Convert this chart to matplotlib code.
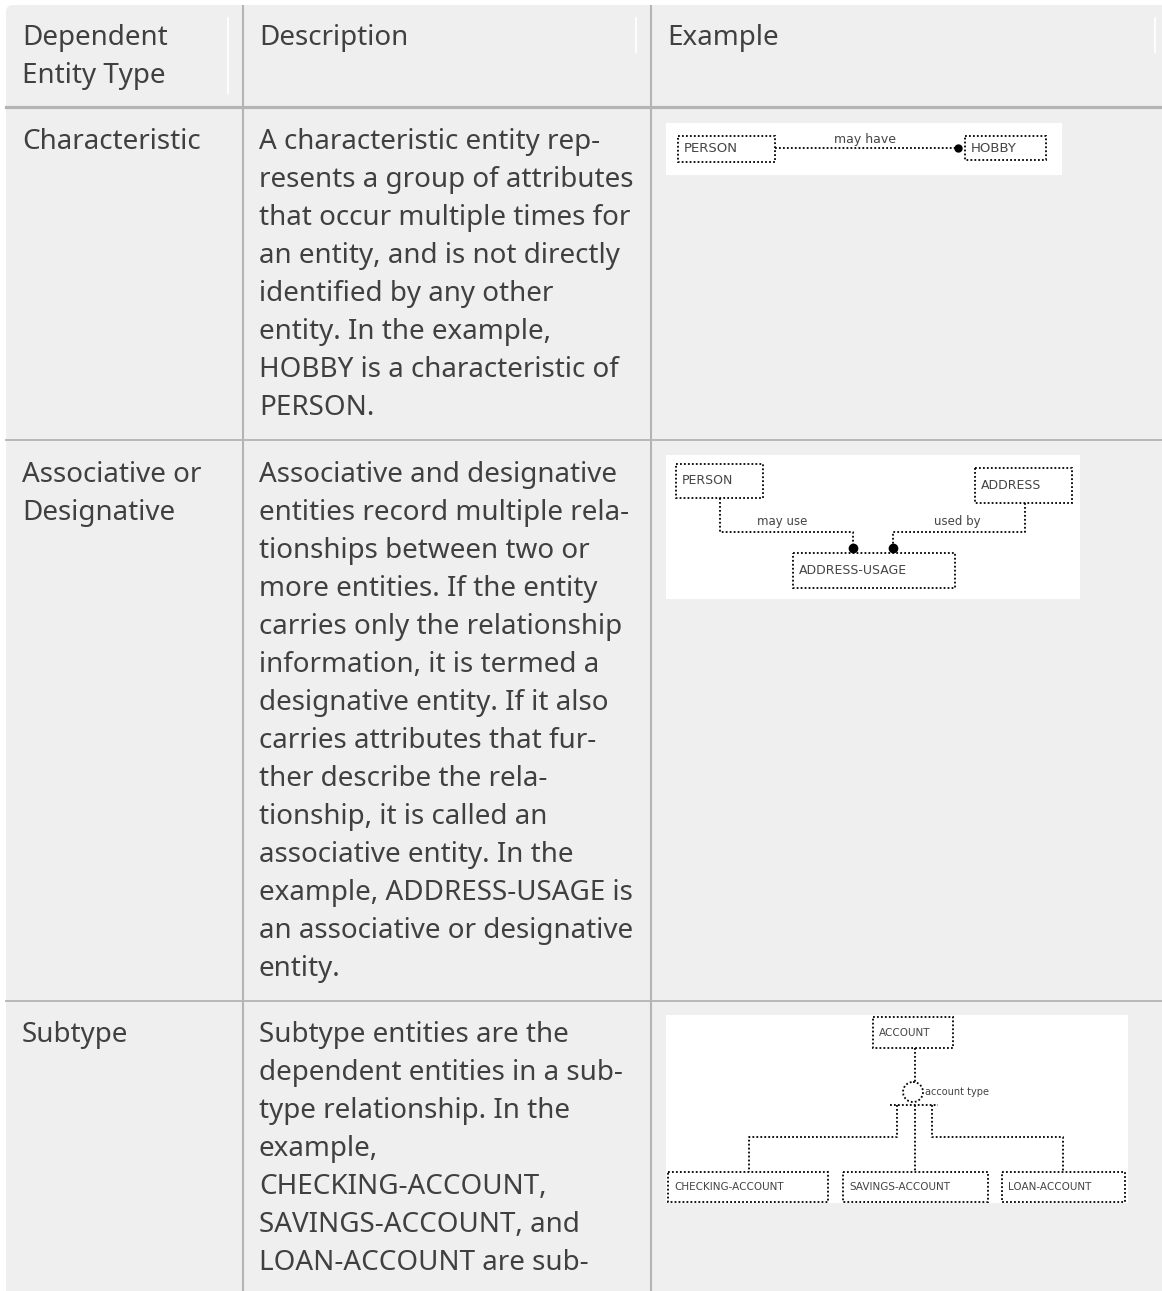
import matplotlib
matplotlib.use("Agg")
import matplotlib.pyplot as plt
from matplotlib.patches import FancyBboxPatch, Rectangle, Circle

plt.rcParams['font.family'] = ['Noto Sans', 'DejaVu Sans']

# table content
headers = ["Dependent\nEntity Type", "Description", "Example"]
entity_types = ["Characteristic", "Associative or\nDesignative", "Subtype"]
descriptions = [
    ["A characteristic entity rep-", "resents a group of attributes",
     "that occur multiple times for", "an entity, and is not directly",
     "identified by any other", "entity. In the example,",
     "HOBBY is a characteristic of", "PERSON."],
    ["Associative and designative", "entities record multiple rela-",
     "tionships between two or", "more entities. If the entity",
     "carries only the relationship", "information, it is termed a",
     "designative entity. If it also", "carries attributes that fur-",
     "ther describe the rela-", "tionship, it is called an",
     "associative entity. In the", "example, ADDRESS-USAGE is",
     "an associative or designative", "entity."],
    ["Subtype entities are the", "dependent entities in a sub-",
     "type relationship. In the", "example,", "CHECKING-ACCOUNT,",
     "SAVINGS-ACCOUNT, and", "LOAN-ACCOUNT are sub-"],
]

W, H = 1162, 1291
BG = '#efefef'
LINE = '#b4b4b4'
TXT = '#404040'
LH = 38          # line height in px
FS = 20          # font size

col_x = [6, 243, 651]
text_x = [22, 259, 667]
row_top = [5, 107, 440, 1001]

fig = plt.figure(figsize=(W / 100, H / 100), dpi=100)
ax = fig.add_axes([0, 0, 1, 1])
ax.set_xlim(0, W)
ax.set_ylim(H, 0)
ax.axis('off')

# table background
ax.add_patch(FancyBboxPatch((6, 5), W + 20, H + 20,
                            boxstyle="round,pad=0,rounding_size=7",
                            fc=BG, ec='none'))

# grid lines
for x in col_x[1:]:
    ax.plot([x, x], [5, H + 5], color=LINE, lw=1.5, solid_capstyle='butt')
ax.plot([6, W], [row_top[1], row_top[1]], color=LINE, lw=2.3)
for y in row_top[2:]:
    ax.plot([6, W], [y, y], color=LINE, lw=1.3)

# white resize handles in the header
ax.plot([228, 228], [18, 93], color='white', lw=1.3)
ax.plot([636, 636], [18, 52], color='white', lw=1.3)
ax.plot([1155, 1155], [18, 52], color='white', lw=1.3)


def put_lines(x, y0, lines):
    for i, s in enumerate(lines):
        ax.text(x, y0 + i * LH + 9, s, fontsize=FS, color=TXT,
                va='baseline', ha='left')


# header
for j, h in enumerate(headers):
    put_lines(text_x[j], 36, h.split("\n"))

# body rows
first_line = [140, 473, 1033]
for i in range(3):
    put_lines(text_x[0], first_line[i], entity_types[i].split("\n"))
    put_lines(text_x[1], first_line[i], descriptions[i])

# ---- example diagrams (dotted ER sketches) ----
dot = dict(color='black', lw=1.3, ls=(0, (1, 1.2)))


def ebox(x0, y0, x1, y1, label, fs):
    ax.add_patch(Rectangle((x0, y0), x1 - x0, y1 - y0, fill=False,
                           ec='black', lw=1.3, ls=(0, (1, 1.2))))
    ax.text(x0 + 6, (y0 + y1) / 2, label, ha='left', va='center',
            fontsize=fs, color='#444444', family='DejaVu Sans')


def lab(x, y, s, fs, ha='center'):
    ax.text(x, y, s, ha=ha, va='center', fontsize=fs, color='#444444',
            family='DejaVu Sans')


def path(xs, ys):
    ax.plot(xs, ys, **dot)


# row 1: PERSON -> HOBBY
ax.add_patch(Rectangle((666, 123), 396, 52, fc='white', ec='none'))
ebox(678, 136, 775, 162, "PERSON", 9.5)
ebox(965, 136, 1046, 160, "HOBBY", 9.5)
path([775, 955], [148, 148])
ax.plot(958, 148, 'o', color='black', ms=5)
lab(865, 140, "may have", 9)

# row 2: PERSON / ADDRESS -> ADDRESS-USAGE
ax.add_patch(Rectangle((666, 455), 414, 144, fc='white', ec='none'))
ebox(676, 464, 763, 498, "PERSON", 9)
ebox(975, 468, 1072, 503, "ADDRESS", 9)
ebox(793, 553, 955, 588, "ADDRESS-USAGE", 9)
path([720, 720, 853, 853], [498, 532, 532, 546])
path([1025, 1025, 893, 893], [503, 532, 532, 546])
ax.plot([853, 893], [548, 548], 'o', color='black', ms=6)
lab(782, 521, "may use", 8.5)
lab(957, 521, "used by", 8.5)

# row 3: ACCOUNT subtypes
ax.add_patch(Rectangle((666, 1015), 462, 188, fc='white', ec='none'))
ebox(873, 1017, 953, 1048, "ACCOUNT", 7.5)
ebox(668, 1172, 828, 1202, "CHECKING-ACCOUNT", 7.5)
ebox(843, 1172, 988, 1202, "SAVINGS-ACCOUNT", 7.5)
ebox(1002, 1172, 1125, 1202, "LOAN-ACCOUNT", 7.5)
path([915, 915], [1048, 1082])
ax.add_patch(Circle((913, 1092), 10, fill=False, ec='black', lw=1.3,
                    ls=(0, (1, 1.2))))
lab(925, 1092, "account type", 7, ha='left')
path([890, 938], [1105, 1105])
path([897, 897, 749, 749], [1105, 1137, 1137, 1172])
path([915, 915], [1105, 1172])
path([932, 932, 1063, 1063], [1105, 1137, 1137, 1172])

fig.savefig("out.png", dpi=100, facecolor='white')
